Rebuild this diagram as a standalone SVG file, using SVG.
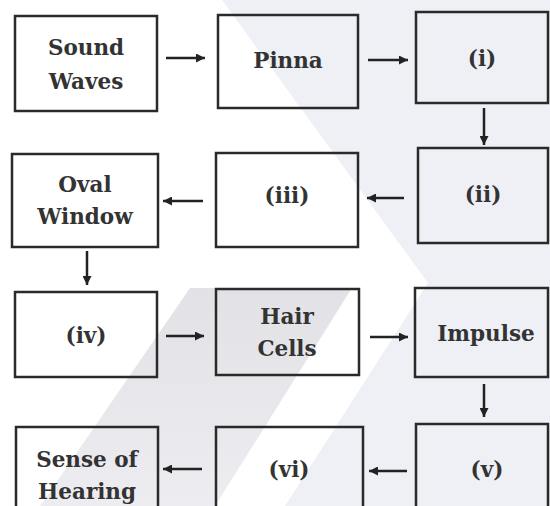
<svg xmlns="http://www.w3.org/2000/svg" width="550" height="506" viewBox="0 0 550 506">
<defs>
<marker id="ah" viewBox="0 0 10 10" refX="10" refY="5" markerWidth="9" markerHeight="9" markerUnits="userSpaceOnUse" orient="auto">
<path d="M0,0 L10,5 L0,10 z" fill="#222"/>
</marker>
<linearGradient id="gb" x1="0" y1="0" x2="0" y2="1">
<stop offset="0" stop-color="#e2e2e6"/>
<stop offset="1" stop-color="#ededf1"/>
</linearGradient>
</defs>
<style>
.box{fill:none;stroke:#2a2a2a;stroke-width:2.5}
.t{font-family:"DejaVu Serif","Liberation Serif",serif;font-weight:bold;font-size:21.5px;fill:#333;text-anchor:middle}
.c{stroke:#222;stroke-width:2.5;fill:none;marker-end:url(#ah)}
</style>
<rect width="550" height="506" fill="#ffffff"/>
<g id="watermark">
<polygon points="222,0 550,0 550,506 285,506 428,283" fill="#eef0f6"/>
<polygon points="190,288 352,288 215,506 40,506" fill="url(#gb)"/>
</g>
<g id="connectors">
<line class="c" x1="166" y1="58" x2="205" y2="58"/>
<line class="c" x1="368" y1="60" x2="408" y2="60"/>
<line class="c" x1="484" y1="108" x2="484" y2="145"/>
<line class="c" x1="404" y1="198" x2="367" y2="198"/>
<line class="c" x1="203" y1="201" x2="163" y2="201"/>
<line class="c" x1="87" y1="251" x2="87" y2="285"/>
<line class="c" x1="166" y1="336" x2="204" y2="336"/>
<line class="c" x1="370" y1="337" x2="408" y2="337"/>
<line class="c" x1="484" y1="384" x2="484" y2="417"/>
<line class="c" x1="407" y1="471" x2="369" y2="471"/>
<line class="c" x1="202" y1="469" x2="163" y2="469"/>
</g>
<g id="sound-waves"><rect class="box" x="15" y="16" width="142" height="95"/><text class="t" x="86" y="55">Sound</text><text class="t" x="86" y="89">Waves</text></g>
<g id="pinna"><rect class="box" x="218" y="15" width="140" height="93"/><text class="t" x="288" y="68">Pinna</text></g>
<g id="i"><rect class="box" x="416" y="12" width="132" height="91"/><text class="t" x="482" y="66">(i)</text></g>
<g id="ii"><rect class="box" x="418" y="148" width="130" height="95"/><text class="t" x="483" y="202">(ii)</text></g>
<g id="iii"><rect class="box" x="216" y="153" width="142" height="94"/><text class="t" x="287" y="203">(iii)</text></g>
<g id="oval-window"><rect class="box" x="12" y="154" width="146" height="93"/><text class="t" x="85" y="192">Oval</text><text class="t" x="85" y="224">Window</text></g>
<g id="iv"><rect class="box" x="15" y="292" width="142" height="85"/><text class="t" x="86" y="343">(iv)</text></g>
<g id="hair-cells"><rect class="box" x="216" y="289" width="143" height="86"/><text class="t" x="287" y="324">Hair</text><text class="t" x="287" y="356">Cells</text></g>
<g id="impulse"><rect class="box" x="415" y="288" width="133" height="89"/><text class="t" x="486" y="341">Impulse</text></g>
<g id="v"><rect class="box" x="416" y="424" width="132" height="100"/><text class="t" x="487" y="477">(v)</text></g>
<g id="vi"><rect class="box" x="216" y="427" width="147" height="100"/><text class="t" x="289" y="477">(vi)</text></g>
<g id="sense-of-hearing"><rect class="box" x="16" y="427" width="142" height="100"/><text class="t" x="87" y="467">Sense of</text><text class="t" x="87" y="499">Hearing</text></g>
</svg>
